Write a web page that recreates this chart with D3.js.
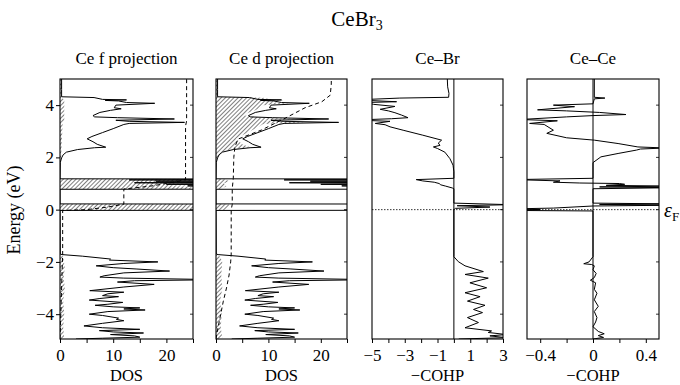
<!DOCTYPE html>
<html>
<head>
<meta charset="utf-8">
<script src="https://cdn.jsdelivr.net/npm/d3@7"></script>
<style>
  html, body { margin: 0; padding: 0; background: #fff; }
  svg text { font-family: "Liberation Serif", "DejaVu Serif", serif; fill: #000; }
</style>
</head>
<body>
<svg id="chart" width="680" height="385"></svg>
<script>
// ---- data: [energy (eV), value] ----
const totalDOS = [
  [5.0, 0.3], [4.6, 0.3], [4.32, 0.3], [4.29, 6.4], [4.22, 8], [4.2, 12.5], [4.18, 8.5], [4.16, 11], [4.1, 12.5],
  [4.07, 17.8], [4.0, 10.5], [3.9, 10.2], [3.86, 11.5], [3.8, 9.5], [3.72, 7.5], [3.6, 6.2], [3.55, 6.5],
  [3.52, 10.8], [3.47, 21.5], [3.42, 10.5], [3.38, 13], [3.34, 23.4], [3.3, 13], [3.26, 12], [3.1, 10],
  [2.95, 8], [2.8, 6], [2.71, 5.1], [2.6, 6.2], [2.5, 7], [2.39, 8.6], [2.37, 6.5], [2.3, 3.3], [2.2, 1.2],
  [2.1, 0.6], [1.98, 0.3], [1.8, 0.05], [1.18, 0],
  [1.17, 60], [1.14, 13], [1.12, 60], [1.09, 18], [1.06, 60], [1.03, 14], [1.0, 40], [0.97, 20], [0.94, 60],
  [0.91, 24], [0.87, 60], [0.83, 30], [0.8, 60], [0.785, 60], [0.78, 0], [0.22, 0],
  [0.21, 60], [0.17, 25], [0.14, 60], [0.1, 30], [0.06, 60], [0.02, 40], [-0.02, 60], [-0.03, 0], [-1.7, 0.05],
  [-1.72, 0.4], [-1.78, 4.2], [-1.89, 9.5], [-1.93, 9.3], [-2.0, 18.4], [-2.06, 12], [-2.15, 6.8], [-2.22, 10],
  [-2.27, 14.3], [-2.35, 20.6], [-2.42, 12], [-2.53, 8.3], [-2.58, 7.5], [-2.62, 12], [-2.68, 30], [-2.72, 14],
  [-2.77, 10.8], [-2.86, 17.7], [-2.96, 12], [-3.1, 5.6], [-3.16, 12], [-3.22, 9], [-3.29, 8.0], [-3.33, 11],
  [-3.4, 7.5], [-3.46, 5.5], [-3.55, 11.8], [-3.62, 9], [-3.66, 6.6], [-3.72, 10], [-3.76, 15], [-3.8, 12],
  [-3.84, 16], [-3.9, 9], [-4.0, 5.5], [-4.05, 8], [-4.15, 11], [-4.2, 10.6], [-4.25, 12], [-4.35, 8],
  [-4.45, 4.5], [-4.52, 8], [-4.58, 15], [-4.63, 7.4], [-4.68, 10], [-4.72, 15.7], [-4.78, 9.5], [-4.83, 14],
  [-4.88, 15], [-4.92, 8], [-4.95, 3]
];

const fProj = [
  [5.0, 0.3], [4.3, 0.3], [4.2, 0.8], [3.4, 0.8], [3.3, 0.5], [2.0, 0.2], [1.8, 0], [1.18, 0],
  [1.17, 40], [1.14, 12], [1.12, 40], [1.09, 16], [1.06, 30], [1.03, 13], [1.0, 25], [0.97, 18], [0.94, 30],
  [0.91, 20], [0.87, 26], [0.83, 24], [0.8, 40], [0.785, 40], [0.78, 0], [0.22, 0],
  [0.21, 40], [0.17, 22], [0.14, 40], [0.1, 26], [0.06, 40], [0.02, 34], [-0.02, 40], [-0.03, 0], [-1.7, 0],
  [-1.8, 0.6], [-2.2, 0.9], [-2.6, 0.7], [-3.0, 0.9], [-3.5, 0.6], [-4.0, 0.8], [-4.5, 0.6], [-4.9, 0.8], [-4.95, 0.4]
];

const dProj = [
  [5.0, 0.2], [4.6, 0.3], [4.32, 0.3], [4.28, 9], [4.2, 11], [4.17, 13], [4.12, 10], [4.07, 14], [4.0, 9],
  [3.9, 8.5], [3.8, 7.5], [3.7, 6], [3.6, 5.5], [3.52, 8.5], [3.47, 16], [3.42, 9], [3.34, 17], [3.28, 9],
  [3.15, 8], [3.0, 6.5], [2.85, 5], [2.71, 3.8], [2.6, 4.5], [2.5, 5], [2.39, 6.5], [2.3, 2.8], [2.2, 1],
  [2.0, 0.3], [1.85, 0], [1.18, 0],
  [1.16, 1.5], [1.1, 2.5], [1.0, 1.5], [0.9, 2], [0.8, 1], [0.78, 0], [0.22, 0], [0.2, 2.5], [0.1, 2.5],
  [0.0, 2], [-0.02, 1], [-0.03, 0], [-1.72, 0],
  [-1.8, 0.8], [-2.0, 1.2], [-2.5, 1.0], [-3.0, 1.2], [-3.5, 0.8], [-4.0, 1.1], [-4.5, 0.9], [-4.9, 1.2], [-4.95, 0.5]
];

const intF = [
  [-4.95, 0], [-4, 0.15], [-3, 0.3], [-2, 0.45], [-1.7, 0.5], [-0.03, 0.5], [0.0, 5], [0.1, 9], [0.21, 12],
  [0.79, 12], [0.9, 17], [1.0, 20], [1.1, 22.5], [1.17, 23.6], [3.2, 23.6], [3.4, 23.8], [5.0, 23.8]
];

const intD = [
  [-4.95, 0], [-4.5, 0.4], [-4, 0.9], [-3.5, 1.4], [-3, 2.0], [-2.5, 2.5], [-2, 2.8], [-1.7, 2.9], [0, 2.9],
  [0.2, 3.1], [0.8, 3.1], [1.2, 3.3], [2.0, 3.4], [2.4, 3.6], [2.7, 4.2], [3.05, 8.7], [3.5, 13.2], [3.9, 17],
  [4.13, 20.2], [4.38, 21.8], [4.8, 22], [5.0, 22]
];

const cohpCeBr = [
  [5.0, -0.4], [4.7, -0.38], [4.45, -0.3], [4.3, -0.32], [4.27, -3.3], [4.2, -6], [4.13, -3.5], [4.1, -5.5],
  [4.03, -4.9], [3.95, -3.6], [3.84, -4.5], [3.78, -4.0], [3.71, -3.6], [3.62, -3.2], [3.52, -2.8], [3.48, -3.8],
  [3.43, -6], [3.38, -3.9], [3.3, -4.8], [3.25, -4.2], [3.17, -3.9], [3.04, -3.1], [2.85, -1.9], [2.66, -0.75],
  [2.55, -0.95], [2.46, -0.85], [2.4, -1.25], [2.34, -1.0], [2.2, -0.55], [1.95, -0.24], [1.7, -0.05],
  [1.45, 0], [1.2, 0], [1.15, -2.3], [1.1, -1.9], [1.05, -1.2], [1.0, -0.9], [0.95, -0.8], [0.9, -0.5],
  [0.83, -0.1], [0.8, 0], [0.25, 0], [0.19, 3.5], [0.15, 0.2], [0.1, 2.2], [0.05, 0.1], [0, 0], [-1.8, 0],
  [-1.99, 0.27], [-2.15, 0.68], [-2.37, 1.8], [-2.48, 0.68], [-2.62, 2.1], [-2.8, 0.98], [-2.99, 2.0],
  [-3.18, 0.68], [-3.33, 1.6], [-3.5, 0.83], [-3.66, 1.9], [-3.82, 1.2], [-3.94, 1.75], [-4.13, 0.83],
  [-4.32, 1.5], [-4.52, 0.68], [-4.64, 2.3], [-4.7, 2.1], [-4.78, 3.2], [-4.83, 2.2], [-4.9, 3.2], [-4.95, 0.3]
];

const cohpCeCe = [
  [5.0, 0.01], [4.3, 0.01], [4.27, 0.09], [4.24, 0.01], [4.05, 0.0], [4.0, -0.3], [3.94, -0.14], [3.82, -0.42],
  [3.78, -0.2], [3.72, 0.05], [3.64, 0.25], [3.6, 0.0], [3.55, -0.2], [3.45, -0.55], [3.4, -0.27], [3.3, -0.48],
  [3.26, -0.37], [3.04, -0.3], [2.92, -0.35], [2.75, -0.2], [2.66, 0.01], [2.53, 0.19], [2.4, 0.34],
  [2.36, 0.55], [2.32, 0.36], [2.28, 0.33], [2.15, 0.19], [2.02, 0.06], [1.8, 0.0], [1.2, 0],
  [1.15, -0.6], [1.1, -0.25], [1.05, -0.3], [1.02, -0.1], [1.0, 0.2], [0.97, 0.24], [0.93, 0.1], [0.9, 0.6],
  [0.87, 0.05], [0.84, 0.6], [0.8, 0], [0.25, 0], [0.22, 0.6], [0.2, 0.05], [0.17, 0.6], [0.14, 0],
  [0.06, -0.3], [0.03, -0.6], [0, -0.4], [-0.03, -0.6], [-0.05, 0], [-1.8, 0], [-2.0, -0.03], [-2.07, -0.07],
  [-2.1, -0.01], [-2.15, 0.01], [-2.3, 0.0], [-2.44, 0.024], [-2.6, 0.01], [-2.7, -0.02], [-2.8, 0.02],
  [-3.05, 0.01], [-3.2, 0.03], [-3.45, 0.01], [-3.7, 0.04], [-3.9, 0.01], [-4.13, 0.03], [-4.3, 0.02],
  [-4.48, 0.0], [-4.66, 0.04], [-4.75, 0.085], [-4.82, 0.04], [-4.89, 0.08], [-4.95, 0.0]
];

const energyTicks = [-4, -2, 0, 2, 4];
const dosTicks = [0, 5, 10, 15, 20, 25];
const dosLabels = [0, 10, 20];
const ceBrTicks = [-5, -4, -3, -2, -1, 0, 1, 2, 3];
const ceBrLabels = [-5, -3, -1, 1, 3];
const ceCeTicks = [-0.4, -0.2, 0, 0.2, 0.4];
const ceCeLabels = [-0.4, 0, 0.4];

const panelTitles = ["Ce f projection", "Ce d projection", "Ce\u2013Br", "Ce\u2013Ce"];
const axisTitles = ["DOS", "DOS", "\u2212COHP", "\u2212COHP"];

// ---- layout ----
const svg = d3.select("#chart");
const plotTop = 79, plotBottom = 339;
const panels = [
  { x0: 60, x1: 193, domain: [0, 25], ticks: dosTicks, labels: dosLabels },
  { x0: 216, x1: 347, domain: [0, 25], ticks: dosTicks, labels: dosLabels },
  { x0: 372, x1: 503, domain: [-5, 3], ticks: ceBrTicks, labels: ceBrLabels },
  { x0: 527, x1: 659, domain: [-0.5, 0.5], ticks: ceCeTicks, labels: ceCeLabels }
];
const y = d3.scaleLinear().domain([-4.95, 5]).range([plotBottom, plotTop]);

const fmt = v => (v < 0 ? "\u2212" + Math.abs(v) : String(v));

// hatch pattern
const defs = svg.append("defs");
defs.append("pattern")
  .attr("id", "hatch").attr("patternUnits", "userSpaceOnUse")
  .attr("width", 3).attr("height", 3)
  .attr("patternTransform", "rotate(45)")
  .append("line")
  .attr("x1", 0).attr("y1", 0).attr("x2", 0).attr("y2", 3)
  .attr("stroke", "#000").attr("stroke-width", 1);

panels.forEach((p, i) => {
  p.x = d3.scaleLinear().domain(p.domain).range([p.x0, p.x1]);
  defs.append("clipPath").attr("id", "clip" + i)
    .append("rect").attr("x", p.x0).attr("y", plotTop).attr("width", p.x1 - p.x0).attr("height", plotBottom - plotTop);
});

// title
const title = svg.append("text").attr("x", 357).attr("y", 26).attr("text-anchor", "middle").attr("font-size", 21);
title.append("tspan").text("CeBr");
title.append("tspan").attr("font-size", 14).attr("dy", 4).text("3");

// y axis label
svg.append("text")
  .attr("transform", "translate(20,210) rotate(-90)")
  .attr("text-anchor", "middle").attr("font-size", 18)
  .text("Energy (eV)");

// y ticks on the first panel
const yAxis = d3.axisLeft(y).tickValues(energyTicks).tickSize(4).tickPadding(2).tickFormat(fmt);
svg.append("g").attr("transform", `translate(${panels[0].x0},0)`).call(yAxis)
  .call(g => g.select(".domain").remove())
  .call(g => g.selectAll("text").attr("font-size", 17));

const lineOf = sc => d3.line().x(d => sc(d[1])).y(d => y(d[0]));
const areaOf = sc => d3.area().y(d => y(d[0])).x0(sc(0)).x1(d => sc(d[1]));

panels.forEach((p, i) => {
  const g = svg.append("g");
  const clip = g.append("g").attr("clip-path", `url(#clip${i})`);

  if (i < 2) {
    const proj = i === 0 ? fProj : dProj;
    const integ = i === 0 ? intF : intD;
    clip.append("path").datum(proj).attr("d", areaOf(p.x)).attr("fill", "url(#hatch)").attr("stroke", "none");
    clip.append("path").datum(totalDOS).attr("d", lineOf(p.x))
      .attr("fill", "none").attr("stroke", "#000").attr("stroke-width", 1);
    clip.append("path").datum(integ).attr("d", lineOf(p.x))
      .attr("fill", "none").attr("stroke", "#000").attr("stroke-width", 1).attr("stroke-dasharray", "4,3");
  } else {
    const data = i === 2 ? cohpCeBr : cohpCeCe;
    clip.append("line").attr("x1", p.x0).attr("x2", p.x1).attr("y1", y(0)).attr("y2", y(0))
      .attr("stroke", "#000").attr("stroke-width", 0.8).attr("stroke-dasharray", "1.5,1.5");
    clip.append("line").attr("x1", p.x(0)).attr("x2", p.x(0)).attr("y1", plotTop).attr("y2", plotBottom)
      .attr("stroke", "#000").attr("stroke-width", 1);
    clip.append("path").datum(data).attr("d", lineOf(p.x))
      .attr("fill", "none").attr("stroke", "#000").attr("stroke-width", 1);
  }

  // frame
  g.append("rect").attr("x", p.x0).attr("y", plotTop).attr("width", p.x1 - p.x0).attr("height", plotBottom - plotTop)
    .attr("fill", "none").attr("stroke", "#000").attr("stroke-width", 1.1);

  // small inner ticks on the right edge
  g.selectAll(".rt").data(energyTicks).enter().append("line")
    .attr("x1", p.x1 - 3).attr("x2", p.x1).attr("y1", d => y(d)).attr("y2", d => y(d))
    .attr("stroke", "#000").attr("stroke-width", 0.8);

  // x axis
  const xAxis = d3.axisBottom(p.x).tickValues(p.ticks).tickSize(4).tickPadding(6)
    .tickFormat(v => p.labels.some(l => Math.abs(l - v) < 1e-9) ? fmt(v) : "");
  svg.append("g").attr("transform", `translate(0,${plotBottom})`).call(xAxis)
    .call(a => a.select(".domain").remove())
    .call(a => a.selectAll("text").attr("font-size", 17));

  // titles
  svg.append("text").attr("x", (p.x0 + p.x1) / 2).attr("y", 64).attr("text-anchor", "middle")
    .attr("font-size", 17).text(panelTitles[i]);
  svg.append("text").attr("x", (p.x0 + p.x1) / 2).attr("y", 380.5).attr("text-anchor", "middle")
    .attr("font-size", 16.5).text(axisTitles[i]);
});

// Fermi level label
const ef = svg.append("text").attr("x", 664).attr("y", 217).attr("font-size", 20).attr("font-style", "italic");
ef.append("tspan").text("\u03b5");
ef.append("tspan").attr("font-size", 13).attr("dy", 4).attr("font-style", "normal").text("F");
</script>
</body>
</html>
